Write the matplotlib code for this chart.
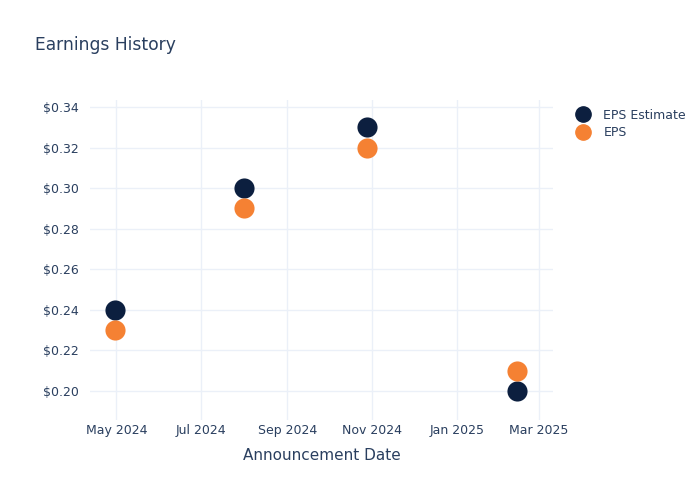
import matplotlib

matplotlib.use("Agg")
import matplotlib.pyplot as plt
import matplotlib.dates as mdates
import numpy as np
from matplotlib.lines import Line2D
from matplotlib.ticker import FuncFormatter

dates = np.array(["2024-04-30", "2024-08-01", "2024-10-28", "2025-02-13"], dtype="datetime64[D]")
eps_estimate = [0.24, 0.30, 0.33, 0.20]
eps_actual = [0.23, 0.29, 0.32, 0.21]

NAVY = "#0c1f3f"
ORANGE = "#f58133"
TEXT = "#2a3f5f"
GRID = "#ebf0f8"

fig = plt.figure(figsize=(7, 5), dpi=100)
ax = fig.add_axes([0.1286, 0.16, 0.6614, 0.64])

ax.scatter(dates, eps_estimate, s=210, color=NAVY, zorder=3, linewidths=0)
ax.scatter(dates, eps_actual, s=210, color=ORANGE, zorder=3, linewidths=0)

ax.set_xlim(np.datetime64("2024-04-12"), np.datetime64("2025-03-11"))
ax.set_ylim(0.1857, 0.3435)
ax.set_yticks([0.20, 0.22, 0.24, 0.26, 0.28, 0.30, 0.32, 0.34])
ax.yaxis.set_major_formatter(FuncFormatter(lambda v, p: f"${v:.2f}"))
ax.xaxis.set_major_locator(mdates.MonthLocator(bymonth=[1, 3, 5, 7, 9, 11]))
ax.xaxis.set_major_formatter(mdates.DateFormatter("%b %Y"))

ax.grid(True, color=GRID, linewidth=1)
ax.set_axisbelow(True)
for s in ax.spines.values():
    s.set_visible(False)
ax.tick_params(length=0, labelsize=9, colors=TEXT)
ax.tick_params(axis="x", pad=3)
ax.tick_params(axis="y", pad=8)
ax.set_xlabel("Announcement Date", fontsize=11, color=TEXT, labelpad=8)

fig.text(0.05, 0.9, "Earnings History", fontsize=12.3, color=TEXT)

handles = [
    Line2D([], [], marker="o", linestyle="", markersize=11, color=NAVY, label="EPS Estimate"),
    Line2D([], [], marker="o", linestyle="", markersize=11, color=ORANGE, label="EPS"),
]
leg = fig.legend(handles=handles, loc="upper left", bbox_to_anchor=(0.803, 0.805),
                 frameon=False, fontsize=9, handletextpad=0.8, labelspacing=0.35,
                 handlelength=1.6)
for t in leg.get_texts():
    t.set_color(TEXT)

fig.savefig("out.png", dpi=100)
